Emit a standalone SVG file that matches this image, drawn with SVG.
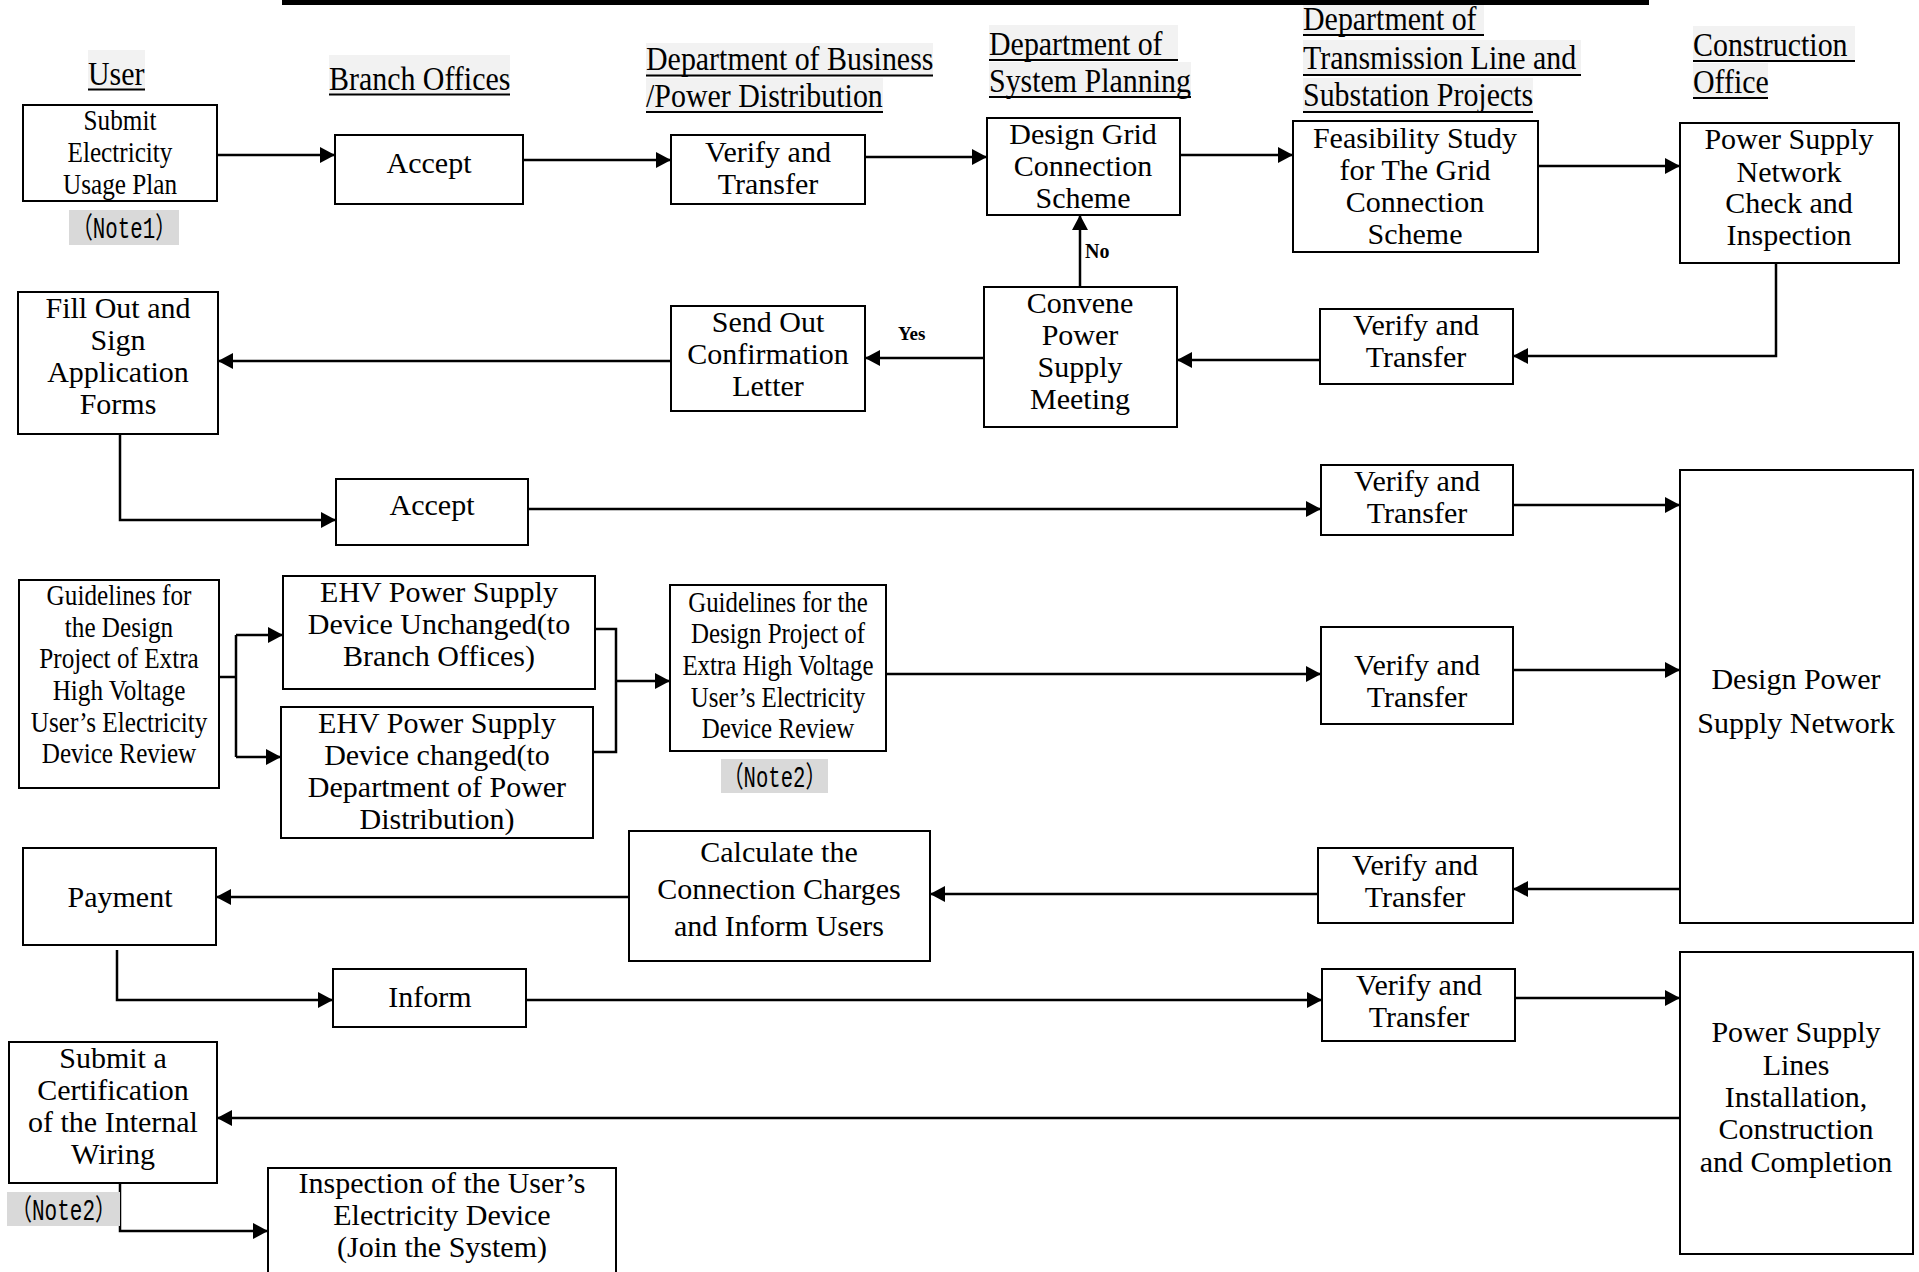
<svg xmlns="http://www.w3.org/2000/svg" width="1919" height="1272" viewBox="0 0 1919 1272">
<style>
.box{fill:#fff;stroke:#000;stroke-width:2}
.t{font-family:"Liberation Serif","Times New Roman",serif;font-size:30px;text-anchor:middle;fill:#000}
.h{font-family:"Liberation Serif","Times New Roman",serif;font-size:34px;fill:#000}
.hbg{fill:#f2f2f2}
.ul{stroke:#000;stroke-width:2}
.nbg{fill:#d9d9d9}
.note{font-family:"Liberation Mono","Noto Sans CJK SC",monospace;font-size:29px;fill:#000}
.lab{font-family:"Liberation Serif","Times New Roman",serif;font-size:20px;font-weight:bold;fill:#000}
.c{stroke:#000;stroke-width:2.5;fill:none}
.ca{stroke:#000;stroke-width:2.5;fill:none;marker-end:url(#ah)}
</style>
<defs>
<marker id="ah" viewBox="0 0 15 16" refX="15" refY="8" markerWidth="15" markerHeight="16" markerUnits="userSpaceOnUse" orient="auto">
<path d="M0,0 L15,8 L0,16 z" fill="#000"/>
</marker>
</defs>
<rect x="0" y="0" width="1919" height="1272" fill="#fff"/>
<rect x="282" y="0" width="1367" height="5" fill="#000"/>

<g id="headers">
<g id="h-user">
<rect class="hbg" x="88" y="50" width="57" height="40"/>
<g transform="translate(88,0) scale(0.88,1)"><text class="h" x="0" y="85">User</text></g>
<line class="ul" x1="88" y1="89.5" x2="145" y2="89.5"/>
</g>
<g id="h-branch">
<rect class="hbg" x="329" y="55" width="181" height="40"/>
<g transform="translate(329,0) scale(0.88,1)"><text class="h" x="0" y="90">Branch Offices</text></g>
<line class="ul" x1="329" y1="94.5" x2="510" y2="94.5"/>
</g>
<g id="h-business">
<rect class="hbg" x="646" y="43" width="287" height="34"/>
<rect class="hbg" x="646" y="78" width="237" height="35"/>
<g transform="translate(646,0) scale(0.88,1)"><text class="h" x="0" y="70">Department of Business</text><text class="h" x="0" y="107">/Power Distribution</text></g>
<line class="ul" x1="646" y1="75.5" x2="933" y2="75.5"/>
<line class="ul" x1="646" y1="112" x2="883" y2="112"/>
</g>
<g id="h-planning">
<rect class="hbg" x="989" y="25" width="189" height="36"/>
<rect class="hbg" x="989" y="62" width="202" height="36"/>
<g transform="translate(989,0) scale(0.88,1)"><text class="h" x="0" y="55">Department of</text><text class="h" x="0" y="92">System Planning</text></g>
<line class="ul" x1="989" y1="60" x2="1178" y2="60"/>
<line class="ul" x1="989" y1="97" x2="1191" y2="97"/>
</g>
<g id="h-transmission">
<rect class="hbg" x="1303" y="5" width="181" height="31"/>
<rect class="hbg" x="1303" y="40" width="278" height="36"/>
<rect class="hbg" x="1303" y="78" width="230" height="35"/>
<g transform="translate(1303,0) scale(0.88,1)"><text class="h" x="0" y="30">Department of</text><text class="h" x="0" y="69">Transmission Line and</text><text class="h" x="0" y="106">Substation Projects</text></g>
<line class="ul" x1="1303" y1="35" x2="1484" y2="35"/>
<line class="ul" x1="1303" y1="75" x2="1581" y2="75"/>
<line class="ul" x1="1303" y1="112" x2="1533" y2="112"/>
</g>
<g id="h-construction">
<rect class="hbg" x="1693" y="26" width="162" height="36"/>
<rect class="hbg" x="1693" y="63" width="75" height="36"/>
<g transform="translate(1693,0) scale(0.88,1)"><text class="h" x="0" y="56">Construction</text><text class="h" x="0" y="93">Office</text></g>
<line class="ul" x1="1693" y1="61" x2="1855" y2="61"/>
<line class="ul" x1="1693" y1="98" x2="1768" y2="98"/>
</g>
</g>

<g id="connectors">
<path class="ca" d="M217,155 H335"/>
<path class="ca" d="M523,160 H671"/>
<path class="ca" d="M865,157 H987"/>
<path class="ca" d="M1180,155 H1293"/>
<path class="ca" d="M1538,166 H1680"/>
<path class="ca" d="M1776,263 V356 H1513"/>
<path class="ca" d="M1320,360 H1177"/>
<path class="ca" d="M984,358 H865"/>
<path class="ca" d="M671,361 H218"/>
<path class="ca" d="M1080,287 V215"/>
<path class="ca" d="M120,434 V520 H336"/>
<path class="ca" d="M528,509 H1321"/>
<path class="ca" d="M1513,505 H1680"/>
<path class="c" d="M219,677 H236 M236,635 V757"/>
<path class="ca" d="M236,635 H283"/>
<path class="ca" d="M236,757 H281"/>
<path class="c" d="M595,629 H616 V752 H593"/>
<path class="ca" d="M616,681 H670"/>
<path class="ca" d="M886,674 H1321"/>
<path class="ca" d="M1513,670 H1680"/>
<path class="ca" d="M1680,889 H1513"/>
<path class="ca" d="M1318,894 H930"/>
<path class="ca" d="M629,897 H216"/>
<path class="ca" d="M117,950 V1000 H333"/>
<path class="ca" d="M526,1000 H1322"/>
<path class="ca" d="M1515,998 H1680"/>
<path class="ca" d="M1680,1118 H217"/>
<path class="ca" d="M120,1183 V1231 H268"/>
<text class="lab" x="1085" y="258">No</text>
<text class="lab" x="898" y="340" style="font-size:19px">Yes</text>
</g>

<g id="n1">
<rect class="box" x="23" y="105" width="194" height="96"/>
<g transform="translate(120,0) scale(0.84,1)"><text class="t" x="0" y="130">Submit</text><text class="t" x="0" y="162">Electricity</text><text class="t" x="0" y="194">Usage Plan</text></g>
</g>
<g id="note1">
<rect class="nbg" x="69" y="210" width="110" height="35"/>
<text class="note" x="72" y="238" textLength="104" lengthAdjust="spacingAndGlyphs">（Note1）</text>
</g>
<g id="n2">
<rect class="box" x="335" y="135" width="188" height="69"/>
<text class="t" x="429" y="173">Accept</text>
</g>
<g id="n3">
<rect class="box" x="671" y="135" width="194" height="69"/>
<text class="t" x="768" y="162">Verify and</text><text class="t" x="768" y="194">Transfer</text>
</g>
<g id="n4">
<rect class="box" x="987" y="118" width="193" height="97"/>
<text class="t" x="1083" y="144">Design Grid</text><text class="t" x="1083" y="176">Connection</text><text class="t" x="1083" y="208">Scheme</text>
</g>
<g id="n5">
<rect class="box" x="1293" y="121" width="245" height="131"/>
<text class="t" x="1415" y="148">Feasibility Study</text><text class="t" x="1415" y="180">for The Grid</text><text class="t" x="1415" y="212">Connection</text><text class="t" x="1415" y="244">Scheme</text>
</g>
<g id="n6">
<rect class="box" x="1680" y="123" width="219" height="140"/>
<text class="t" x="1789" y="149">Power Supply</text><text class="t" x="1789" y="182">Network</text><text class="t" x="1789" y="213">Check and</text><text class="t" x="1789" y="245">Inspection</text>
</g>
<g id="n7">
<rect class="box" x="1320" y="309" width="193" height="75"/>
<text class="t" x="1416" y="335">Verify and</text><text class="t" x="1416" y="367">Transfer</text>
</g>
<g id="n8">
<rect class="box" x="984" y="287" width="193" height="140"/>
<text class="t" x="1080" y="313">Convene</text><text class="t" x="1080" y="345">Power</text><text class="t" x="1080" y="377">Supply</text><text class="t" x="1080" y="409">Meeting</text>
</g>
<g id="n9">
<rect class="box" x="671" y="306" width="194" height="105"/>
<text class="t" x="768" y="332">Send Out</text><text class="t" x="768" y="364">Confirmation</text><text class="t" x="768" y="396">Letter</text>
</g>
<g id="n10">
<rect class="box" x="18" y="292" width="200" height="142"/>
<text class="t" x="118" y="318">Fill Out and</text><text class="t" x="118" y="350">Sign</text><text class="t" x="118" y="382">Application</text><text class="t" x="118" y="414">Forms</text>
</g>
<g id="n11">
<rect class="box" x="336" y="479" width="192" height="66"/>
<text class="t" x="432" y="515">Accept</text>
</g>
<g id="n12">
<rect class="box" x="1321" y="465" width="192" height="70"/>
<text class="t" x="1417" y="491">Verify and</text><text class="t" x="1417" y="523">Transfer</text>
</g>
<g id="n13">
<rect class="box" x="19" y="580" width="200" height="208"/>
<g transform="translate(119,0) scale(0.84,1)"><text class="t" x="0" y="605">Guidelines for</text><text class="t" x="0" y="637">the Design</text><text class="t" x="0" y="668">Project of Extra</text><text class="t" x="0" y="700">High Voltage</text><text class="t" x="0" y="732">User’s Electricity</text><text class="t" x="0" y="763">Device Review</text></g>
</g>
<g id="n14">
<rect class="box" x="283" y="576" width="312" height="113"/>
<text class="t" x="439" y="602">EHV Power Supply</text><text class="t" x="439" y="634">Device Unchanged(to</text><text class="t" x="439" y="666">Branch Offices)</text>
</g>
<g id="n15">
<rect class="box" x="281" y="707" width="312" height="131"/>
<text class="t" x="437" y="733">EHV Power Supply</text><text class="t" x="437" y="765">Device changed(to</text><text class="t" x="437" y="797">Department of Power</text><text class="t" x="437" y="829">Distribution)</text>
</g>
<g id="n16">
<rect class="box" x="1680" y="470" width="233" height="453"/>
<text class="t" x="1796" y="689">Design Power</text><text class="t" x="1796" y="733">Supply Network</text>
</g>
<g id="n17">
<rect class="box" x="670" y="585" width="216" height="166"/>
<g transform="translate(778,0) scale(0.83,1)"><text class="t" x="0" y="612">Guidelines for the</text><text class="t" x="0" y="643">Design Project of</text><text class="t" x="0" y="675">Extra High Voltage</text><text class="t" x="0" y="707">User’s Electricity</text><text class="t" x="0" y="738">Device Review</text></g>
</g>
<g id="note2a">
<rect class="nbg" x="721" y="759" width="107" height="34"/>
<text class="note" x="723" y="787" textLength="103" lengthAdjust="spacingAndGlyphs">（Note2）</text>
</g>
<g id="n18">
<rect class="box" x="1321" y="627" width="192" height="97"/>
<text class="t" x="1417" y="675">Verify and</text><text class="t" x="1417" y="707">Transfer</text>
</g>
<g id="n19">
<rect class="box" x="1318" y="848" width="195" height="75"/>
<text class="t" x="1415" y="875">Verify and</text><text class="t" x="1415" y="907">Transfer</text>
</g>
<g id="n20">
<rect class="box" x="629" y="831" width="301" height="130"/>
<text class="t" x="779" y="862">Calculate the</text><text class="t" x="779" y="899">Connection Charges</text><text class="t" x="779" y="936">and Inform Users</text>
</g>
<g id="n21">
<rect class="box" x="23" y="848" width="193" height="97"/>
<text class="t" x="120" y="907">Payment</text>
</g>
<g id="n22">
<rect class="box" x="333" y="969" width="193" height="58"/>
<text class="t" x="430" y="1007">Inform</text>
</g>
<g id="n23">
<rect class="box" x="1322" y="969" width="193" height="72"/>
<text class="t" x="1419" y="995">Verify and</text><text class="t" x="1419" y="1027">Transfer</text>
</g>
<g id="n24">
<rect class="box" x="1680" y="952" width="233" height="302"/>
<text class="t" x="1796" y="1042">Power Supply</text><text class="t" x="1796" y="1075">Lines</text><text class="t" x="1796" y="1107">Installation,</text><text class="t" x="1796" y="1139">Construction</text><text class="t" x="1796" y="1172">and Completion</text>
</g>
<g id="n25">
<rect class="box" x="9" y="1042" width="208" height="141"/>
<text class="t" x="113" y="1068">Submit a</text><text class="t" x="113" y="1100">Certification</text><text class="t" x="113" y="1132">of the Internal</text><text class="t" x="113" y="1164">Wiring</text>
</g>
<g id="note2b">
<rect class="nbg" x="7" y="1192" width="113" height="34"/>
<text class="note" x="11" y="1220" textLength="105" lengthAdjust="spacingAndGlyphs">（Note2）</text>
</g>
<g id="n26">
<rect class="box" x="268" y="1168" width="348" height="115"/>
<text class="t" x="442" y="1193">Inspection of the User’s</text><text class="t" x="442" y="1225">Electricity Device</text><text class="t" x="442" y="1257">(Join the System)</text>
</g>
</svg>
